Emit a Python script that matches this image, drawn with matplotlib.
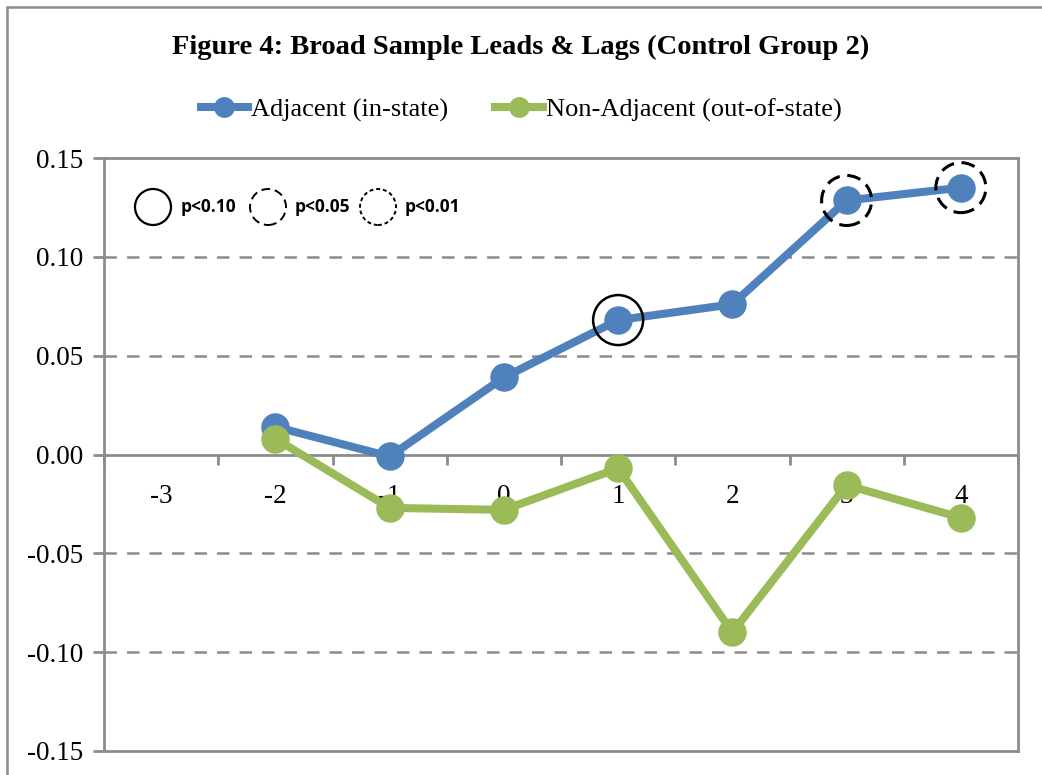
import numpy as np
import matplotlib.pyplot as plt
from matplotlib.lines import Line2D

# data
periods = ["-3", "-2", "-1", "0", "1", "2", "3", "4"]
adjacent = [np.nan, 0.014, -0.001, 0.039, 0.068, 0.076, 0.1285, 0.135]
non_adjacent = [np.nan, 0.008, -0.027, -0.028, -0.007, -0.090, -0.0155, -0.032]
# significance level of adjacent estimates (None = not significant)
adj_sig = [None, None, None, None, "p<0.10", None, "p<0.05", "p<0.05"]

yticks = [-0.15, -0.10, -0.05, 0.00, 0.05, 0.10, 0.15]

blue = "#4F81BD"
green = "#9BBB59"
gray = "#8C8C8C"
serif = ["Liberation Serif", "DejaVu Serif"]

W, H = 1042, 775
fig = plt.figure(figsize=(W / 100, H / 100), dpi=100)
fig.patch.set_facecolor("white")

# outer chart frame
fig.add_artist(plt.Rectangle((7 / W, -0.01), 1.0, 1 - 7 / H + 0.01, transform=fig.transFigure,
                             fill=False, edgecolor=gray, lw=1.8))

ax = fig.add_axes([104 / W, 24 / H, 914 / W, 593 / H])
x = np.arange(len(periods))

ax.set_xlim(-0.5, len(periods) - 0.5)
ax.set_ylim(-0.15, 0.15)

for s in ["left", "right", "top"]:
    ax.spines[s].set_color(gray)
    ax.spines[s].set_linewidth(2)
ax.spines["bottom"].set_position(("data", 0))
ax.spines["bottom"].set_color(gray)
ax.spines["bottom"].set_linewidth(2)
ax.axhline(-0.15, color=gray, lw=2, clip_on=False)

ax.set_yticks(yticks)
ax.set_yticklabels(["%.2f" % v for v in yticks], family=serif, fontsize=19.5)
ax.tick_params(axis="y", length=8, width=2, color=gray, pad=7)
for v in yticks:
    if v not in (0.0, -0.15, 0.15):
        ax.axhline(v, color=gray, lw=1.8, ls=(0, (5, 4)), zorder=0)

ax.set_xticks(np.arange(len(periods) + 1) - 0.5)
ax.set_xticklabels([])
ax.tick_params(axis="x", length=7, width=2, color=gray, direction="out")
for i, lab in enumerate(periods):
    ax.annotate(lab, (i, 0), xytext=(0, -21), textcoords="offset points",
                ha="center", va="top", family=serif, fontsize=19.5)

ax.plot(x, adjacent, color=blue, lw=5.8, marker="o", ms=19.5, zorder=3)
ax.plot(x, non_adjacent, color=green, lw=5.8, marker="o", ms=19.5, zorder=3)

# significance rings around adjacent estimates
styles = {"p<0.10": "-", "p<0.05": (0, (4.5, 2.5)), "p<0.01": (0, (2, 1.5))}
fig.canvas.draw()
for i, s in enumerate(adj_sig):
    if s is not None:
        pt = ax.transData.transform((x[i], adjacent[i]))
        ring = plt.Circle(pt, 25, transform=None, fill=False, ec="black",
                          lw=1.8 if s == "p<0.10" else 2.2, ls=styles[s], zorder=4)
        ax.add_artist(ring)

# significance key
for cx, tx, lab in [(153, 181, "p<0.10"), (268, 295, "p<0.05"), (378, 405, "p<0.01")]:
    fig.add_artist(plt.Circle((cx, H - 207), 18, transform=None, fill=False, ec="black",
                              lw=1.6 if lab == "p<0.10" else 1.4, ls=styles[lab]))
    fig.text(tx / W, 1 - 207 / H, lab, fontsize=12.5, fontweight="bold", va="center",
             family="Open Sans")

fig.text(0.5, 1 - 47 / H, "Figure 4: Broad Sample Leads & Lags (Control Group 2)",
         ha="center", va="center", family=serif, fontsize=20.5, fontweight="bold")

handles = [Line2D([], [], color=blue, lw=5.8, marker="o", ms=14),
           Line2D([], [], color=green, lw=5.8, marker="o", ms=14)]
fig.legend(handles, ["Adjacent (in-state)", "Non-Adjacent (out-of-state)"],
           loc="center", bbox_to_anchor=(0.5, 1 - 110 / H), ncol=2, frameon=False,
           prop={"family": serif, "size": 19}, handlelength=1.8, handletextpad=0.1,
           columnspacing=1.8)

fig.savefig("out.png", dpi=100)
